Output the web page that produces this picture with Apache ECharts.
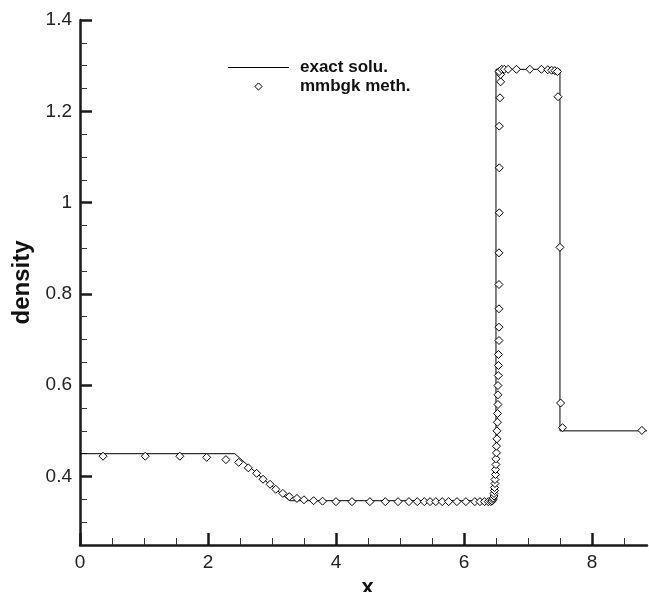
<!DOCTYPE html>
<html>
<head>
<meta charset="utf-8">
<script src="https://cdn.jsdelivr.net/npm/echarts@6/dist/echarts.min.js"></script>
<style>
  html, body {margin: 0; padding: 0; background: #fff;}
  #chart {width: 649px; height: 592px;}
</style>
</head>
<body>
<div id="chart"></div>
<script>
// exact solution (piecewise)
const exactX = [0, 2.42, 2.85, 3.28, 6.5, 6.5, 7.5, 7.5, 8.86]
const exactY = [0.45, 0.45, 0.396, 0.347, 0.347, 1.292, 1.292, 0.5, 0.5]

// mmbgk method markers
const mmbgkX = [
  0.36, 1.02, 1.56, 1.98, 2.28, 2.48, 2.63, 2.76, 2.86, 2.97, 3.06, 3.17, 3.27, 3.39, 3.50, 3.65, 3.79,
  4.00, 4.25, 4.53, 4.77, 4.97, 5.14, 5.27, 5.38, 5.47, 5.56, 5.66, 5.76, 5.89, 6.03, 6.17, 6.25, 6.32, 6.38, 6.42,
  6.44, 6.453, 6.458, 6.469, 6.469, 6.477, 6.477, 6.484, 6.484, 6.492, 6.492, 6.5, 6.5, 6.508, 6.508, 6.516, 6.516,
  6.523, 6.523, 6.531, 6.531, 6.531, 6.536, 6.539, 6.539, 6.547, 6.547, 6.547, 6.547, 6.547, 6.552, 6.552, 6.552,
  6.5625, 6.573, 6.573, 6.55,
  6.59, 6.63, 6.69, 6.82, 7.03, 7.21, 7.31, 7.37, 7.42, 7.46,
  7.47, 7.50, 7.51, 7.54, 8.78
]
const mmbgkY = [
  0.4445, 0.4445, 0.4445, 0.442, 0.437, 0.431, 0.419, 0.407, 0.394, 0.383, 0.372, 0.363, 0.356, 0.352, 0.349, 0.347, 0.346,
  0.345, 0.345, 0.345, 0.345, 0.345, 0.345, 0.345, 0.345, 0.345, 0.345, 0.345, 0.345, 0.345, 0.345, 0.345, 0.345, 0.345, 0.345, 0.345,
  0.3463, 0.3496, 0.3529, 0.3573, 0.3628, 0.3693, 0.3759, 0.3847, 0.3934, 0.4044, 0.4153, 0.4263, 0.4388, 0.4519, 0.4664, 0.4826, 0.5001,
  0.5189, 0.538, 0.5577, 0.579, 0.5993, 0.6212, 0.6432, 0.6673, 0.6979, 0.7271, 0.7674, 0.8206, 0.89, 0.9777, 1.0762, 1.1674,
  1.2296, 1.2646, 1.2806, 1.287,
  1.292, 1.292, 1.292, 1.292, 1.292, 1.292, 1.291, 1.290, 1.289, 1.287,
  1.232, 0.902, 0.561, 0.507, 0.501
]

const xTicks = [0, 2, 4, 6, 8]
const xMinorTicks = [0.5, 1, 1.5, 2.5, 3, 3.5, 4.5, 5, 5.5, 6.5, 7, 7.5, 8.5]
const yTicks = [0.4, 0.6, 0.8, 1, 1.2, 1.4]
const yMinorTicks = [0.3, 0.35, 0.45, 0.5, 0.55, 0.65, 0.7, 0.75, 0.85, 0.9, 0.95, 1.05, 1.1, 1.15, 1.25, 1.3, 1.35]

const xMin = 0, xMax = 8.86
const yMin = 0.25, yMax = 1.4

const font = 'Liberation Sans, Arial, sans-serif'
const axisColor = '#1a1a1a'

const exactData = exactX.map((x, i) => [x, exactY[i]])
const mmbgkData = mmbgkX.map((x, i) => [x, mmbgkY[i]])

const chart = echarts.init(document.getElementById('chart'))

const minorAxis = (vals) => ({
  type: 'value',
  axisLine: {show: false},
  axisTick: {show: true, inside: true, length: 7, customValues: vals, lineStyle: {color: '#333', width: 1}},
  axisLabel: {show: false},
  splitLine: {show: false}
})

const legendText = {fontFamily: font, fontSize: 17, fontWeight: 'bold', color: '#111', padding: [0, 0, 0, 6]}

chart.setOption({
  animation: false,
  backgroundColor: '#fff',
  grid: {left: 80, right: 2, top: 20, bottom: 47, containLabel: false, outerBoundsMode: 'none'},
  legend: [
    {
      data: [{name: 'exact solu.', icon: 'rect'}],
      left: 228, top: 59, padding: 0,
      itemWidth: 61, itemHeight: 1,
      textStyle: legendText
    },
    {
      data: ['mmbgk meth.'],
      left: 228, top: 78, padding: 0,
      itemWidth: 61, itemHeight: 9,
      itemStyle: {color: '#fff', borderColor: '#000', borderWidth: 1},
      textStyle: legendText
    }
  ],
  xAxis: [
    {
      type: 'value', min: xMin, max: xMax, position: 'bottom',
      name: 'x', nameLocation: 'middle', nameGap: 27,
      nameTextStyle: {fontFamily: font, fontSize: 22, fontWeight: 'bold', color: '#111', padding: [0, 0, 0, 8]},
      axisLine: {show: true, onZero: false, lineStyle: {color: axisColor, width: 2.5}},
      axisTick: {show: true, inside: true, length: 12, customValues: xTicks, lineStyle: {color: axisColor, width: 2.5}},
      axisLabel: {customValues: xTicks, margin: 8, fontFamily: font, fontSize: 19, color: '#222'},
      splitLine: {show: false}
    },
    Object.assign(minorAxis(xMinorTicks), {min: xMin, max: xMax, position: 'bottom'})
  ],
  yAxis: [
    {
      type: 'value', min: yMin, max: yMax, position: 'left',
      name: 'density', nameLocation: 'middle', nameGap: 46,
      nameTextStyle: {fontFamily: font, fontSize: 24, fontWeight: 'bold', color: '#111'},
      axisLine: {show: true, onZero: false, lineStyle: {color: axisColor, width: 2.5}},
      axisTick: {show: true, inside: true, length: 12, customValues: yTicks, lineStyle: {color: axisColor, width: 2.5}},
      axisLabel: {customValues: yTicks, margin: 8, fontFamily: font, fontSize: 19, color: '#222'},
      splitLine: {show: false}
    },
    Object.assign(minorAxis(yMinorTicks), {min: yMin, max: yMax, position: 'left'})
  ],
  series: [
    {
      name: 'exact solu.',
      type: 'line',
      data: exactData,
      symbol: 'none',
      color: '#000',
      itemStyle: {color: '#000'},
      lineStyle: {color: '#000', width: 1},
      z: 2
    },
    {
      name: 'mmbgk meth.',
      type: 'line',
      data: mmbgkData,
      symbol: 'diamond',
      symbolSize: 8,
      showSymbol: true,
      showAllSymbol: true,
      itemStyle: {color: '#fff', borderColor: '#000', borderWidth: 1},
      lineStyle: {width: 0, opacity: 0},
      z: 3
    }
  ]
})
</script>
</body>
</html>
